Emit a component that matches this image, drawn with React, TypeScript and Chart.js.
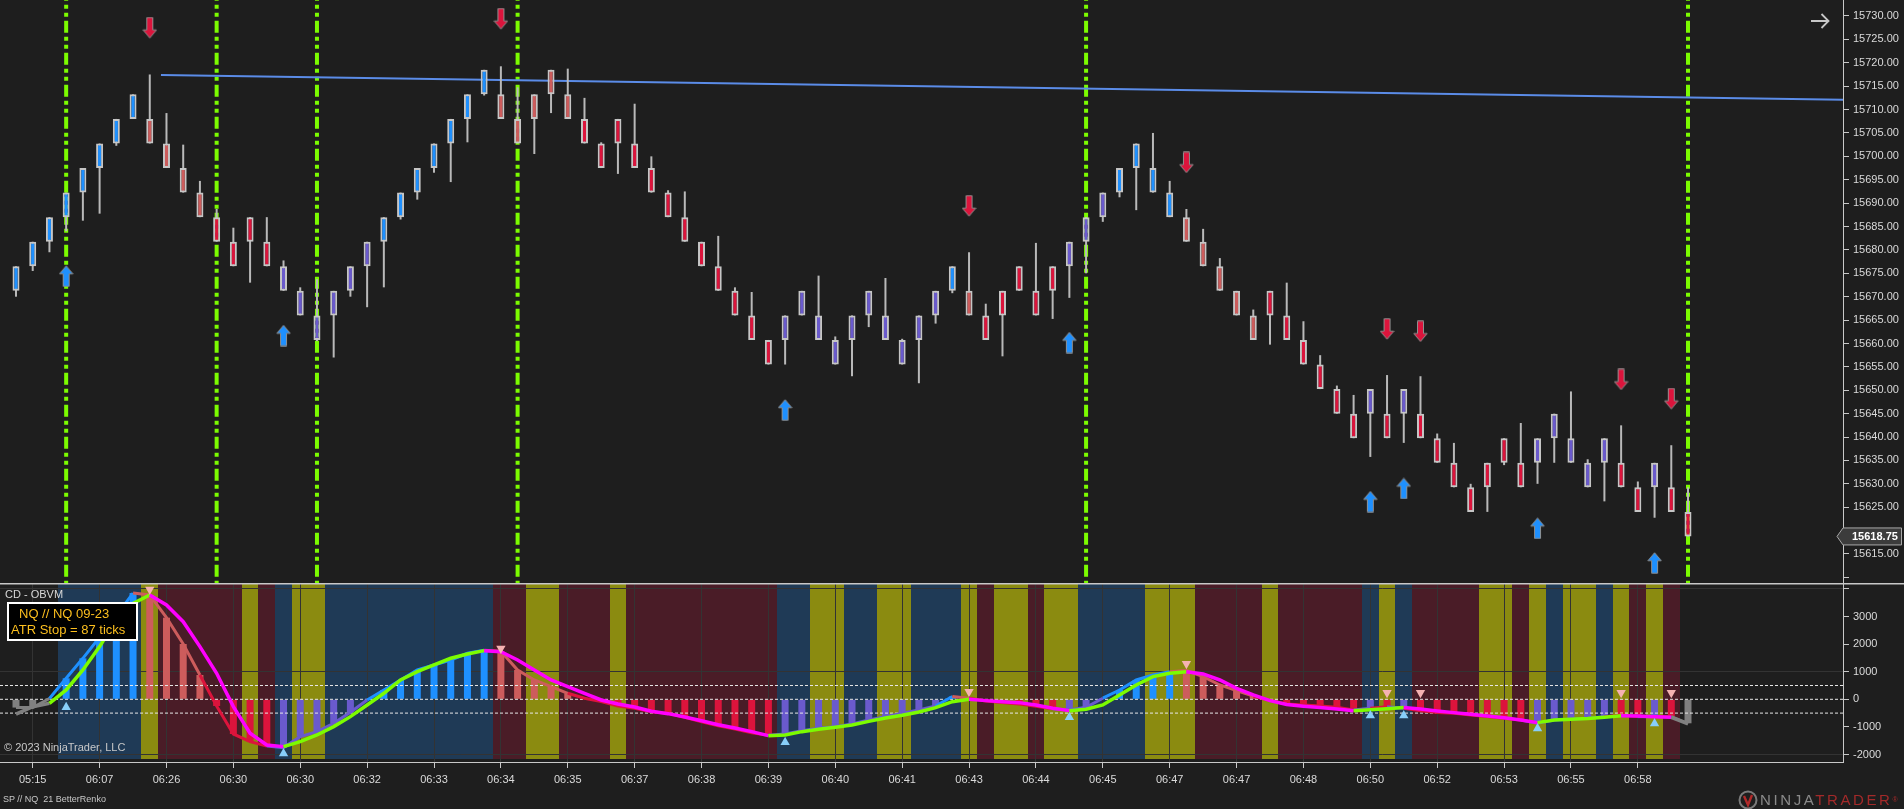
import React, { useEffect, useRef } from 'react';
import { Chart, registerables } from 'chart.js';

Chart.register(...registerables);

const FONT = "'Liberation Sans', Arial, Helvetica, sans-serif";
Chart.defaults.font.family = FONT;

// ---------------- data ----------------
const openPrices = [
  15671.25, 15676.5, 15681.75, 15687, 15692.25, 15697.5, 15702.75, 15708, 15708, 15702.75,
  15697.5, 15692.25, 15687, 15681.75, 15687, 15681.75, 15671.25, 15666, 15660.75, 15666,
  15671.25, 15676.5, 15681.75, 15687, 15692.25, 15697.5, 15702.75, 15708, 15713.25, 15713.25,
  15708, 15713.25, 15718.5, 15713.25, 15708, 15702.75, 15708, 15702.75, 15697.5, 15692.25,
  15687, 15681.75, 15676.5, 15671.25, 15666, 15660.75, 15660.75, 15666, 15660.75, 15655.5,
  15660.75, 15666, 15660.75, 15655.5, 15660.75, 15666, 15671.25, 15671.25, 15666, 15671.25,
  15676.5, 15671.25, 15676.5, 15676.5, 15681.75, 15687, 15692.25, 15697.5, 15692.25, 15687,
  15687, 15681.75, 15676.5, 15671.25, 15666, 15671.25, 15666, 15660.75, 15655.5, 15650.25,
  15645, 15645, 15645, 15645, 15645, 15639.75, 15634.5, 15629.25, 15634.5, 15639.75,
  15634.5, 15634.5, 15639.75, 15634.5, 15629.25, 15634.5, 15634.5, 15629.25, 15629.25, 15629.25,
  15624,
];
const closePrices = [
  15676.5, 15681.75, 15687, 15692.25, 15697.5, 15702.75, 15708, 15713.25, 15702.75, 15697.5,
  15692.25, 15687, 15681.75, 15676.5, 15681.75, 15676.5, 15676.5, 15671.25, 15666, 15671.25,
  15676.5, 15681.75, 15687, 15692.25, 15697.5, 15702.75, 15708, 15713.25, 15718.5, 15708,
  15702.75, 15708, 15713.25, 15708, 15702.75, 15697.5, 15702.75, 15697.5, 15692.25, 15687,
  15681.75, 15676.5, 15671.25, 15666, 15660.75, 15655.5, 15666, 15671.25, 15666, 15660.75,
  15666, 15671.25, 15666, 15660.75, 15666, 15671.25, 15676.5, 15666, 15660.75, 15666,
  15671.25, 15666, 15671.25, 15681.75, 15687, 15692.25, 15697.5, 15702.75, 15697.5, 15692.25,
  15681.75, 15676.5, 15671.25, 15666, 15660.75, 15666, 15660.75, 15655.5, 15650.25, 15645,
  15639.75, 15650.25, 15639.75, 15650.25, 15639.75, 15634.5, 15629.25, 15624, 15629.25, 15634.5,
  15629.25, 15639.75, 15645, 15639.75, 15634.5, 15639.75, 15629.25, 15624, 15634.5, 15624,
  15618.75,
];
const highPrices = [
  15676.5, 15681.75, 15687, 15692.25, 15697.5, 15702.75, 15708, 15713.25, 15717.5, 15709.25,
  15702.5, 15694.75, 15688.75, 15684.75, 15687, 15687, 15677.75, 15672, 15673.75, 15671.25,
  15676.5, 15681.75, 15687, 15692.25, 15697.5, 15702.75, 15708, 15713.25, 15718.5, 15719.25,
  15714.75, 15713.25, 15718.5, 15718.75, 15712.5, 15703, 15708, 15711.25, 15700, 15692.75,
  15692.5, 15681.75, 15683, 15672, 15671, 15660.75, 15666, 15671.25, 15674.5, 15661.5,
  15666, 15671.25, 15674, 15661, 15666, 15671.25, 15676.5, 15679.5, 15668.5, 15671.25,
  15676.5, 15681.5, 15676.5, 15681.75, 15687, 15692.25, 15697.5, 15702.75, 15705, 15694.75,
  15688.75, 15684.5, 15678.25, 15671.25, 15667.25, 15671.25, 15673, 15664.75, 15657.5, 15651,
  15649, 15650.25, 15653.25, 15650.25, 15653, 15640.75, 15638.75, 15630, 15634.5, 15639.75,
  15643, 15639.75, 15645, 15649.75, 15635.25, 15639.75, 15642.5, 15630.5, 15634.5, 15638.25,
  15629.25,
];
const lowPrices = [
  15670, 15675.5, 15679.5, 15684, 15686.25, 15687.75, 15702.25, 15708, 15702.75, 15697.5,
  15692.25, 15687, 15681.75, 15676.5, 15673, 15676.5, 15671.25, 15666, 15660.5, 15657,
  15670, 15667.75, 15672, 15686.5, 15690.75, 15696.5, 15694.5, 15703, 15713, 15708,
  15702.75, 15700.5, 15709.25, 15708, 15702.75, 15697.5, 15696.25, 15697.5, 15692.25, 15687,
  15681.75, 15676.5, 15671.25, 15666, 15660.75, 15655.5, 15655.5, 15666, 15660.75, 15655.5,
  15653, 15663.5, 15660.75, 15655.5, 15651.5, 15664.25, 15670.75, 15666, 15660.75, 15657.25,
  15671.25, 15666, 15665.25, 15669.75, 15675, 15686, 15691.25, 15688.5, 15692.25, 15687,
  15681.75, 15676.5, 15671.25, 15666, 15660.75, 15659.75, 15660.75, 15655.5, 15650.25, 15645,
  15639.75, 15635.75, 15639.75, 15638.75, 15639.75, 15634.5, 15629.25, 15624, 15624, 15634,
  15629.25, 15630, 15634.5, 15634.5, 15629.25, 15626.25, 15629.25, 15624, 15622.75, 15624,
  15618.75,
];
// candle tone: B blue, P pink, R red, V violet
const candleTone = (
  'BBBBBBBB' + 'PPPP' + 'RRRR' + 'VVVVVV' + 'BBBBBBB' + 'PPPPP' + 'RRRRRRRRRRRR' + 'VVVVVVVVVV' +
  'B' + 'P' + 'RRRRR' + 'VVV' + 'BBBB' + 'PPPPP' + 'RRRRRR' + 'V' + 'R' + 'V' + 'RRRRRRR' +
  'VVVVV' + 'RR' + 'V' + 'RR'
).split('');
// oscillator histogram (and its coloured line)
const histValues = [
  -300, -300, 30, 761, 1485, 2250, 3030, 3850, 3780, 2957,
  2004, 880, -243, -1257, -1534, -1690, -1750, -1353, -1172, -870,
  -471, -25, 337, 700, 1063, 1244, 1425, 1667, 1780, 1740,
  1063, 700, 459, 217, 36, -85, -243, -327, -449, -510,
  -655, -812, -957, -1078, -1210, -1307, -1257, -1136, -1051, -990,
  -894, -749, -628, -507, -387, -242, 100, 36, -60, -120,
  -170, -250, -340, -387, -290, 40, 337, 700, 882, 1002,
  1039, 821, 519, 314, 120, -48, -170, -206, -242, -290,
  -387, -326, -266, -326, -411, -483, -507, -568, -628, -688,
  -749, -870, -749, -725, -688, -628, -568, -628, -628, -628,
  -870,
];
const histTone = (
  'GGG' + 'BBBBB' + 'PPPP' + 'RRRR' + 'VVVVVV' + 'BBBBBBB' + 'PPPPP' + 'RRRRRRRRRRRR' + 'VVVVVVVVVV' +
  'B' + 'P' + 'RRRRR' + 'VVV' + 'BBBB' + 'PPPPP' + 'RRRRRR' + 'V' + 'R' + 'V' + 'RRRRRRR' +
  'VVVVV' + 'RR' + 'V' + 'R' + 'G'
).split('');
// smoothed signal line
const signalValues = [
  -540, -270, -145, 339, 1063, 1908, 2873, 3477, 3779, 3417,
  2812, 1908, 942, -266, -1232, -1655, -1715, -1534, -1293, -990,
  -628, -205, 217, 700, 1002, 1244, 1486, 1643, 1763, 1727,
  1425, 1063, 700, 459, 217, -25, -170, -280, -430, -520,
  -640, -780, -920, -1040, -1170, -1318, -1290, -1172, -1087, -1015,
  -930, -800, -680, -580, -460, -300, -85, 0, -48, -85,
  -121, -205, -326, -411, -362, -205, 157, 519, 821, 942,
  1002, 918, 700, 398, 157, -48, -190, -250, -300, -350,
  -411, -380, -340, -300, -350, -423, -483, -544, -604, -665,
  -749, -845, -749, -725, -700, -652, -592, -604, -628, -652,
  -894,
];
// background regime bands: B navy, M maroon, O olive, - none
const bandTone = (
  '---' + 'BBBBB' + 'O' + 'MMMMM' + 'O' + 'M' + 'B' + 'OO' + 'BBBBBBBBBB' + 'MM' + 'OO' + 'MMM' + 'O' +
  'MMMMMMMMM' + 'BB' + 'OO' + 'BB' + 'OO' + 'BBB' + 'O' + 'M' + 'OO' + 'M' + 'OO' + 'BBBB' + 'OOO' +
  'MMMM' + 'O' + 'MMMMM' + 'B' + 'O' + 'B' + 'MMMM' + 'OO' + 'M' + 'O' + 'B' + 'OO' + 'B' + 'O' + 'M' +
  'O' + 'M' + '-'
).split('');

const sessionLineIdx = [3, 12, 18, 30, 64, 100];
const upArrowIdx = [3, 16, 46, 63, 81, 83, 91, 98];
const upArrowPrice = [15674.4, 15661.7, 15645.8, 15660.2, 15626.2, 15629.0, 15620.5, 15613.1];
const downArrowIdx = [8, 29, 57, 70, 82, 84, 96, 99];
const downArrowPrice = [15727.5, 15729.4, 15689.4, 15698.7, 15663.1, 15662.6, 15652.3, 15648.2];
const upMarkIdx = [3, 16, 46, 63, 81, 83, 91, 98];
const upMarkValue = [-286, -1964, -1554, -649, -587, -587, -1058, -877];
const downMarkIdx = [8, 29, 57, 70, 82, 84, 96, 99];
const downMarkValue = [3978, 1841, 272, 1286, 236, 236, 236, 236];
const trendIdx = [8.67, 109.27];
const trendPrice = [15717.4, 15712.1];
const levelLines = [500, 0, -500];
const oscTicks = [-2000, -1000, 0, 1000, 2000, 3000, 4000];
const oscGridLines = [-2000, 1000, 4000];
const xTickIdx = [1, 5, 9, 13, 17, 21, 25, 29, 33, 37, 41, 45, 49, 53, 57, 61, 65, 69, 73, 77, 81, 85, 89, 93, 97];
const xTickLabels = [
  '05:15', '06:07', '06:26', '06:30', '06:30', '06:32', '06:33', '06:34', '06:35', '06:37', '06:38', '06:39',
  '06:40', '06:41', '06:43', '06:44', '06:45', '06:47', '06:47', '06:48', '06:50', '06:52', '06:53', '06:55', '06:58',
];

// ---------------- styles ----------------
const TONE: Record<string, string> = { B: '#1e90ff', P: '#cd5c5c', R: '#dc143c', V: '#6a5acd', G: '#808080' };
const BAND: Record<string, string> = { B: '#1f3a56', M: '#4a1c27', O: '#8b8b10' };
const X_MIN = -0.957;
const X_MAX = 109.27;
const P_MIN = 15608.8;
const P_MAX = 15733.42;
const V_MIN = -2272;
const V_MAX = 4214;
const AXIS_W = 61;
const TXT = '#dadada';
const LINE = '#c8c8c8';

function makeArrow(up: boolean, fill: string): HTMLCanvasElement {
  const c = document.createElement('canvas');
  c.width = 15;
  c.height = 22;
  const g = c.getContext('2d')!;
  const pts = [[7.5, 0.8], [14.2, 8.8], [10.5, 8.8], [10.5, 21.2], [4.5, 21.2], [4.5, 8.8], [0.8, 8.8]];
  g.beginPath();
  pts.forEach(([px, py], k) => {
    const yy = up ? py : 22 - py;
    if (k === 0) g.moveTo(px, yy);
    else g.lineTo(px, yy);
  });
  g.closePath();
  g.fillStyle = fill;
  g.fill();
  g.strokeStyle = '#8f8f8f';
  g.lineWidth = 1;
  g.stroke();
  return c;
}

const yAxisFit = (s: any) => {
  s.width = AXIS_W;
  s.paddingTop = 0;
  s.paddingBottom = 0;
};

export default function App() {
  const mainRef = useRef<HTMLCanvasElement>(null);
  const indRef = useRef<HTMLCanvasElement>(null);

  useEffect(() => {
    document.body.style.margin = '0';
    document.body.style.background = '#1e1e1e';
    const idx = openPrices.map((_, i) => i);
    const upImg = makeArrow(true, '#1e90ff');
    const downImg = makeArrow(false, '#dc143c');
    const lastPrice = closePrices[closePrices.length - 1];

    const mainPlugin = {
      id: 'mainDecor',
      afterDraw(chart: any) {
        const { ctx, chartArea } = chart;
        const ys = chart.scales.y;
        const y = ys.getPixelForValue(lastPrice);
        const x0 = chartArea.right;
        ctx.save();
        ctx.beginPath();
        ctx.moveTo(x0 - 6, y);
        ctx.lineTo(x0, y - 8.5);
        ctx.lineTo(chart.width - 2.5, y - 8.5);
        ctx.lineTo(chart.width - 2.5, y + 8.5);
        ctx.lineTo(x0, y + 8.5);
        ctx.closePath();
        ctx.fillStyle = '#3c3c3c';
        ctx.fill();
        ctx.strokeStyle = '#a8a8a8';
        ctx.lineWidth = 1;
        ctx.stroke();
        ctx.fillStyle = '#ffffff';
        ctx.font = `bold 11px ${FONT}`;
        ctx.textBaseline = 'middle';
        ctx.textAlign = 'left';
        ctx.fillText(lastPrice.toFixed(2), x0 + 9, y + 0.5);
        // scroll-to-end arrow
        ctx.strokeStyle = LINE;
        ctx.lineWidth = 1.8;
        ctx.beginPath();
        ctx.moveTo(x0 - 32, 21);
        ctx.lineTo(x0 - 14.5, 21);
        ctx.moveTo(x0 - 21.5, 14);
        ctx.lineTo(x0 - 14.5, 21);
        ctx.lineTo(x0 - 21.5, 28);
        ctx.stroke();
        ctx.restore();
      },
    };

    const main = new Chart(mainRef.current!, {
      type: 'bar',
      data: {
        datasets: [
          {
            type: 'line',
            label: 'session',
            data: sessionLineIdx.flatMap((i) => [
              { x: i, y: P_MAX },
              { x: i, y: P_MIN },
              { x: i, y: null },
            ]),
            borderColor: '#7cfc00',
            borderWidth: 4,
            borderDash: [12, 4, 4, 4, 4, 4],
            borderDashOffset: 11.3,
            pointRadius: 0,
            spanGaps: false,
            order: 6,
          } as any,
          {
            type: 'line',
            label: 'trend',
            data: trendIdx.map((x, k) => ({ x, y: trendPrice[k] })),
            borderColor: '#5b8ce8',
            borderWidth: 2,
            pointRadius: 0,
            order: 5,
          } as any,
          {
            type: 'bar',
            label: 'wick',
            data: idx.map((i) => ({ x: i, y: [lowPrices[i], highPrices[i]] })),
            backgroundColor: '#b9b9b9',
            barThickness: 2,
            grouped: false,
            inflateAmount: 0,
            order: 4,
          } as any,
          {
            type: 'bar',
            label: 'body',
            data: idx.map((i) => ({ x: i, y: [openPrices[i], closePrices[i]] })),
            backgroundColor: idx.map((i) => TONE[candleTone[i]]),
            borderColor: '#c6c6c6',
            borderWidth: 2,
            borderSkipped: false,
            barThickness: 7,
            grouped: false,
            inflateAmount: 0,
            order: 3,
          } as any,
          {
            type: 'line',
            label: 'long',
            data: upArrowIdx.map((x, k) => ({ x, y: upArrowPrice[k] })),
            showLine: false,
            pointStyle: upImg,
            pointRadius: 6,
            order: 1,
          } as any,
          {
            type: 'line',
            label: 'short',
            data: downArrowIdx.map((x, k) => ({ x, y: downArrowPrice[k] })),
            showLine: false,
            pointStyle: downImg,
            pointRadius: 6,
            order: 0,
          } as any,
        ],
      },
      options: {
        animation: false,
        responsive: false,
        events: [],
        layout: { padding: 0, autoPadding: false } as any,
        plugins: { legend: { display: false }, tooltip: { enabled: false } },
        scales: {
          x: {
            type: 'linear',
            min: X_MIN,
            max: X_MAX,
            display: false,
            offset: false,
            grid: { offset: false },
          },
          y: {
            type: 'linear',
            position: 'right',
            min: P_MIN,
            max: P_MAX,
            afterFit: yAxisFit,
            ticks: {
              stepSize: 5,
              includeBounds: false,
              color: TXT,
              padding: 4,
              font: { family: FONT, size: 11 },
              callback: (v: any) => {
                const n = Number(v);
                if (n < 15612 || Math.abs(n - lastPrice) < 2.5) return '';
                return n.toFixed(2);
              },
            },
            grid: { drawOnChartArea: false, tickLength: 6, tickColor: LINE },
            border: { color: LINE, width: 1 },
          },
        },
      } as any,
      plugins: [mainPlugin],
    });

    const indPlugin = {
      id: 'indDecor',
      beforeDraw(chart: any) {
        const { ctx, chartArea } = chart;
        const xs = chart.scales.x;
        ctx.save();
        let i = 0;
        while (i < bandTone.length) {
          const t = bandTone[i];
          let j = i;
          while (j + 1 < bandTone.length && bandTone[j + 1] === t) j++;
          if (BAND[t]) {
            const l = Math.round(xs.getPixelForValue(i - 0.5));
            const r = Math.round(xs.getPixelForValue(j + 0.5));
            ctx.fillStyle = BAND[t];
            ctx.fillRect(l, chartArea.top + 1, r - l, chartArea.bottom - chartArea.top - 4);
          }
          i = j + 1;
        }
        ctx.restore();
      },
      afterDraw(chart: any) {
        const { ctx } = chart;
        ctx.save();
        ctx.fillStyle = LINE;
        ctx.fillRect(0, 0, chart.width, 1.5);
        ctx.restore();
      },
    };

    const ind = new Chart(indRef.current!, {
      type: 'bar',
      data: {
        datasets: [
          {
            type: 'bar',
            label: 'hist',
            data: idx.map((i) => ({ x: i, y: histValues[i] })),
            backgroundColor: idx.map((i) => TONE[histTone[i]]),
            barThickness: 7,
            grouped: false,
            inflateAmount: 0,
            order: 5,
          } as any,
          {
            type: 'line',
            label: 'levels',
            data: levelLines.flatMap((v) => [
              { x: X_MIN, y: v },
              { x: X_MAX, y: v },
              { x: X_MAX, y: null },
            ]),
            borderColor: '#e8e8e8',
            borderWidth: 1,
            borderDash: [3, 2],
            pointRadius: 0,
            spanGaps: false,
            order: 4,
          } as any,
          {
            type: 'line',
            label: 'obv',
            data: idx.map((i) => ({ x: i, y: histValues[i] })),
            borderColor: '#808080',
            borderWidth: 3,
            pointRadius: 0,
            segment: { borderColor: (c: any) => TONE[histTone[c.p1DataIndex]] },
            order: 3,
          } as any,
          {
            type: 'line',
            label: 'signal',
            data: idx.map((i) => ({ x: i, y: signalValues[i] })),
            borderColor: '#808080',
            borderWidth: 3.5,
            pointRadius: 0,
            segment: {
              borderColor: (c: any) => {
                const a = c.p0DataIndex;
                const b = c.p1DataIndex;
                if (b <= 2 || b >= signalValues.length - 1) return '#808080';
                return signalValues[b] >= signalValues[a] ? '#7cfc00' : '#ff00ff';
              },
            },
            order: 2,
          } as any,
          {
            type: 'line',
            label: 'upMark',
            data: upMarkIdx.map((x, k) => ({ x, y: upMarkValue[k] })),
            showLine: false,
            pointStyle: 'triangle',
            pointRadius: 5.4,
            pointBackgroundColor: '#87cefa',
            pointBorderWidth: 0,
            order: 1,
          } as any,
          {
            type: 'line',
            label: 'downMark',
            data: downMarkIdx.map((x, k) => ({ x, y: downMarkValue[k] })),
            showLine: false,
            pointStyle: 'triangle',
            pointRotation: 180,
            pointRadius: 5.4,
            pointBackgroundColor: '#f5b2b2',
            pointBorderWidth: 0,
            order: 0,
          } as any,
        ],
      },
      options: {
        animation: false,
        responsive: false,
        events: [],
        layout: { padding: 0, autoPadding: false } as any,
        plugins: { legend: { display: false }, tooltip: { enabled: false } },
        scales: {
          x: {
            type: 'linear',
            min: X_MIN,
            max: X_MAX,
            offset: false,
            afterBuildTicks: (s: any) => {
              s.ticks = xTickIdx.map((v) => ({ value: v }));
            },
            afterFit: (s: any) => {
              s.height = 47;
              s.paddingLeft = 0;
              s.paddingRight = 0;
            },
            ticks: {
              autoSkip: false,
              maxRotation: 0,
              minRotation: 0,
              color: TXT,
              padding: 5,
              font: { family: FONT, size: 11 },
              callback: (_v: any, i: number) => xTickLabels[i] ?? '',
            },
            grid: { offset: false, color: '#333333', lineWidth: 1, tickLength: 6, tickColor: LINE },
            border: { color: LINE, width: 1 },
          },
          y: {
            type: 'linear',
            position: 'right',
            min: V_MIN,
            max: V_MAX,
            afterFit: yAxisFit,
            afterBuildTicks: (s: any) => {
              s.ticks = oscTicks.map((v) => ({ value: v }));
            },
            ticks: {
              color: TXT,
              padding: 4,
              font: { family: FONT, size: 11 },
              callback: (v: any) => (Number(v) > 3500 ? '' : String(v)),
            },
            grid: {
              color: (c: any) => (c.tick && oscGridLines.includes(c.tick.value) ? '#333333' : 'rgba(0,0,0,0)'),
              tickLength: 6,
              tickColor: LINE,
            },
            border: { color: LINE, width: 1 },
          },
        },
      } as any,
      plugins: [indPlugin],
    });

    return () => {
      main.destroy();
      ind.destroy();
    };
  }, []);

  const abs = (o: React.CSSProperties): React.CSSProperties => ({ position: 'absolute', whiteSpace: 'pre', ...o });

  return (
    <div
      style={{
        position: 'fixed',
        left: 0,
        top: 0,
        width: 1904,
        height: 809,
        background: '#1e1e1e',
        overflow: 'hidden',
        fontFamily: FONT,
      }}
    >
      <canvas ref={mainRef} width={1904} height={583} style={{ position: 'absolute', left: 0, top: 0, width: 1904, height: 583 }} />
      <canvas ref={indRef} width={1904} height={226} style={{ position: 'absolute', left: 0, top: 583, width: 1904, height: 226 }} />

      <div style={abs({ left: 5, top: 588, fontSize: 11, lineHeight: '13px', color: '#d8d8d8' })}>CD - OBVM</div>

      <div
        style={abs({
          left: 7,
          top: 602,
          width: 131,
          height: 39,
          boxSizing: 'border-box',
          border: '2px solid #ffffff',
          background: '#000000',
        })}
      >
        <div style={abs({ left: 10, top: 2, fontSize: 13, lineHeight: '15px', color: '#fcbf1e' })}>NQ // NQ 09-23</div>
        <div style={abs({ left: 2, top: 18, fontSize: 13, lineHeight: '15px', color: '#fcbf1e' })}>ATR Stop = 87 ticks</div>
      </div>

      <div style={abs({ left: 4, top: 741, fontSize: 11, lineHeight: '13px', color: '#c8c8c8' })}>© 2023 NinjaTrader, LLC</div>

      <div style={abs({ left: 3, top: 794, fontSize: 9, lineHeight: '11px', color: '#c8c8c8' })}>SP // NQ  21 BetterRenko</div>

      <svg style={{ position: 'absolute', left: 1738, top: 790 }} width={20} height={20} viewBox="0 0 20 20">
        <circle cx={10} cy={10} r={8.5} fill="none" stroke="#7a7a7a" strokeWidth={2} />
        <path d="M6 6 L10 15 L14 5" fill="none" stroke="#b22a2a" strokeWidth={2.4} />
      </svg>
      <div style={abs({ left: 1760, top: 791, fontSize: 15, lineHeight: '18px', letterSpacing: '2.6px', fontWeight: 300 })}>
        <span style={{ color: '#8a8a8a' }}>NINJA</span>
        <span style={{ color: '#a32a2a' }}>TRADER</span>
        <span style={{ color: '#a32a2a', fontSize: 7, verticalAlign: 'top' }}>®</span>
      </div>
    </div>
  );
}
